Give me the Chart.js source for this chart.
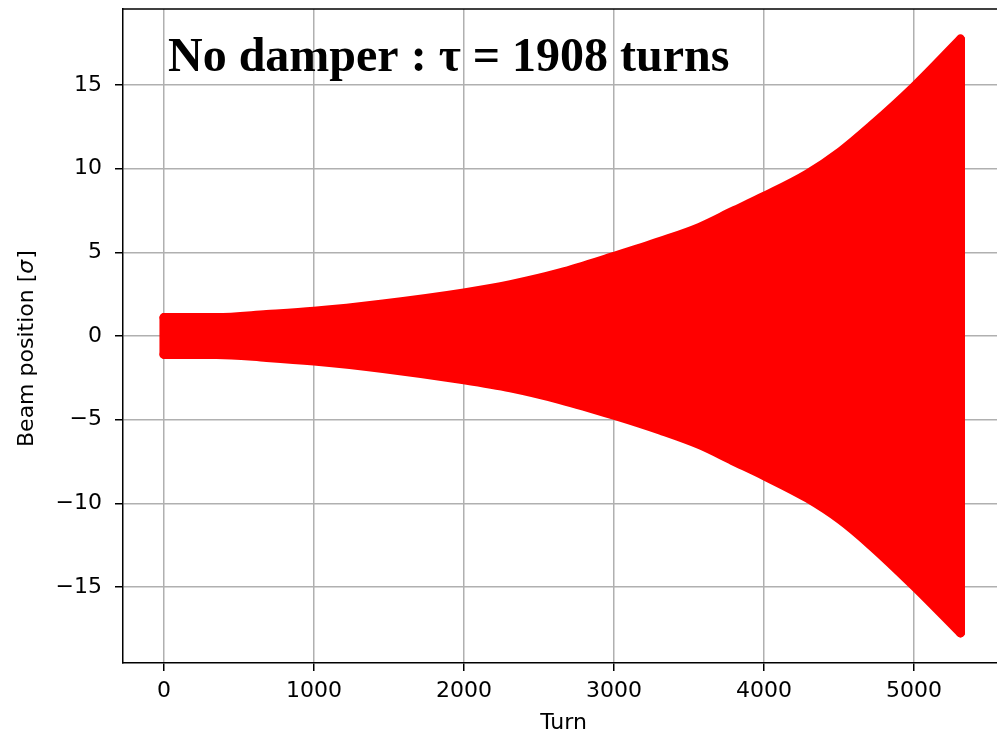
<!DOCTYPE html>
<html>
<head>
<meta charset="utf-8">
<script src="https://cdn.jsdelivr.net/npm/chart.js@4.4.1/dist/chart.umd.min.js"></script>
<style>
  html, body { margin: 0; padding: 0; background: #fff; overflow: hidden; }
  canvas { display: block; }
</style>
</head>
<body>
<canvas id="beamChart" width="1010" height="736"></canvas>
<script>
// outer edges of the oscillation, sampled at a set of turns (in sigma)
const turns     = [0, 350, 684, 1000, 1460, 2000, 2310, 2640, 3000, 3310, 3570, 3790, 4000, 4290, 4510, 4710, 5000, 5310];
const upperEdge = [1.10, 1.10, 1.28, 1.48, 1.92, 2.58, 3.07, 3.77, 4.76, 5.66, 6.50, 7.45, 8.35, 9.70, 11.03, 12.53, 14.91, 17.75];
const lowerEdge = [-1.10, -1.10, -1.28, -1.50, -1.94, -2.62, -3.10, -3.80, -4.74, -5.64, -6.50, -7.45, -8.35, -9.70, -11.0, -12.5, -14.95, -17.75];

const xTicks = [0, 1000, 2000, 3000, 4000, 5000];
const yTicks = [-15, -10, -5, 0, 5, 10, 15];
const heading = 'No damper : \u03c4 = 1908 turns';

const RED = '#ff0000';
const last = turns.length - 1;
const toPoints = (ys) => turns.map((t, i) => ({ x: t, y: ys[i] }));

// shared look for the edge lines; the thick stroke stands in for the marker radius
const edge = {
  showLine: true, borderColor: RED, backgroundColor: RED, borderWidth: 9,
  borderCapStyle: 'round', borderJoinStyle: 'round',
  pointRadius: 0, pointHoverRadius: 0, cubicInterpolationMode: 'monotone'
};

const axisFont = { family: 'DejaVu Sans', size: 22 };
const minus = (v) => String(v).replace('-', '\u2212');

// top spine, heading inside the axes, and the y label with an italic sigma
const decorations = {
  id: 'decorations',
  afterDraw(chart) {
    const { ctx, chartArea: a } = chart;
    ctx.save();
    ctx.strokeStyle = '#000'; ctx.lineWidth = 1.5;
    ctx.beginPath(); ctx.moveTo(a.left, a.top); ctx.lineTo(a.right, a.top); ctx.stroke();

    ctx.fillStyle = '#000';
    ctx.textBaseline = 'alphabetic';
    ctx.textAlign = 'left';
    ctx.font = 'bold 48px "Liberation Serif"';
    ctx.fillText(heading, 168, 71);

    ctx.translate(33, 447);
    ctx.rotate(-Math.PI / 2);
    ctx.font = '22px "DejaVu Sans"';
    let x = 0;
    const part1 = 'Beam position [';
    ctx.fillText(part1, x, 0); x += ctx.measureText(part1).width;
    ctx.font = 'italic 22px "DejaVu Sans"';
    ctx.fillText('\u03c3', x, 0); x += ctx.measureText('\u03c3').width + 1;
    ctx.font = '22px "DejaVu Sans"';
    ctx.fillText(']', x, 0);
    ctx.restore();
  }
};

new Chart(document.getElementById('beamChart'), {
  type: 'scatter',
  data: {
    datasets: [
      { ...edge, label: 'upper', data: toPoints(upperEdge), fill: '+1' },
      { ...edge, label: 'lower', data: toPoints(lowerEdge), fill: false },
      { ...edge, label: 'first turn', fill: false,
        data: [{ x: turns[0], y: upperEdge[0] }, { x: turns[0], y: lowerEdge[0] }] },
      { ...edge, label: 'last turn', fill: false,
        data: [{ x: turns[last], y: upperEdge[last] }, { x: turns[last], y: lowerEdge[last] }] }
    ]
  },
  options: {
    responsive: false,
    animation: false,
    layout: { padding: { top: 9, right: 6, left: 0, bottom: 0 } },
    plugins: { legend: { display: false }, tooltip: { enabled: false } },
    scales: {
      x: {
        type: 'linear', min: -273, max: 5600,
        afterFit: (s) => { s.height = 73; s.paddingLeft = 0; s.paddingRight = 0; },
        afterBuildTicks: (s) => { s.ticks = xTicks.map(v => ({ value: v })); },
        grid: { color: '#b0b0b0', lineWidth: 1.5, tickColor: '#000', tickWidth: 1.5, tickLength: 8 },
        border: { color: '#000', width: 1.5 },
        ticks: { font: axisFont, color: '#000', padding: 7, maxRotation: 0, callback: minus },
        title: { display: true, text: 'Turn', font: axisFont, color: '#000', padding: { top: 0, bottom: 0 } }
      },
      y: {
        type: 'linear', min: -19.55, max: 19.55,
        afterFit: (s) => { s.width = 123; s.paddingTop = 0; s.paddingBottom = 0; },
        afterBuildTicks: (s) => { s.ticks = yTicks.map(v => ({ value: v })); },
        grid: { color: '#b0b0b0', lineWidth: 1.5, tickColor: '#000', tickWidth: 1.5, tickLength: 8 },
        border: { color: '#000', width: 1.5 },
        ticks: { font: axisFont, color: '#000', padding: 13, callback: minus }
      }
    }
  },
  plugins: [decorations]
});
</script>
</body>
</html>
